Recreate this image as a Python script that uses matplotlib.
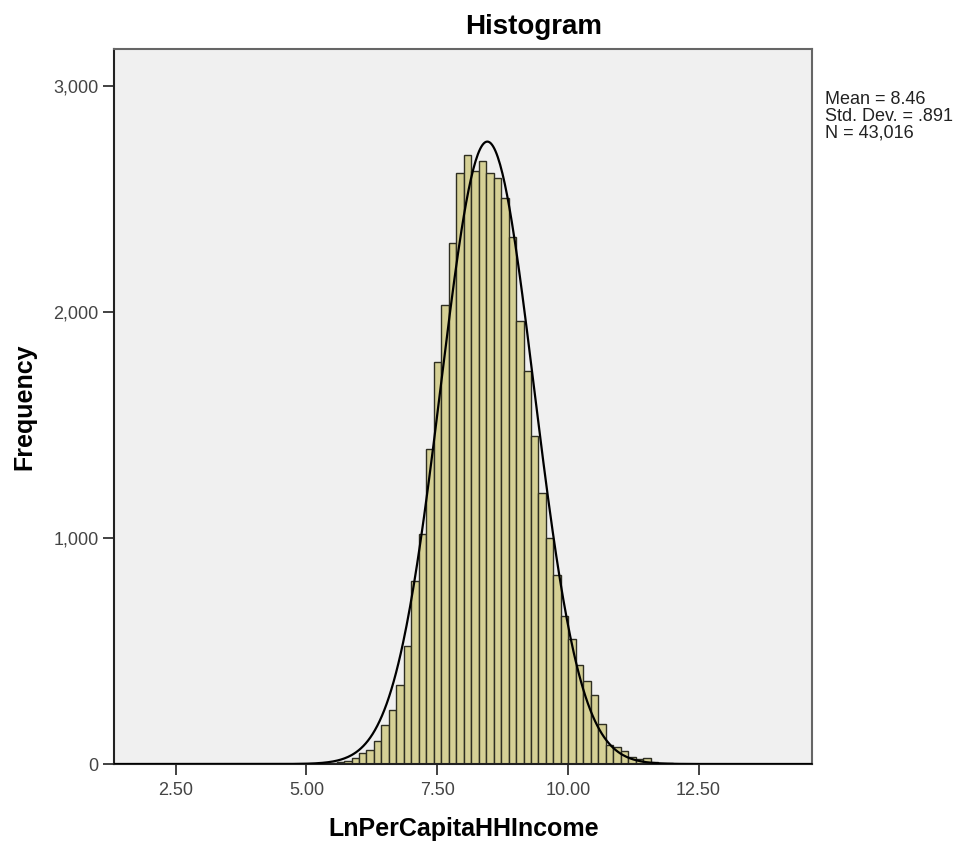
import numpy as np
import matplotlib
matplotlib.use('Agg')
import matplotlib.pyplot as plt

# histogram of LnPerCapitaHHIncome
bin_start = 5.005
bin_width = 0.143
counts = [1, 2, 2, 5, 9,
          13, 26, 48, 61, 101, 171, 237, 351, 522, 811, 1018, 1395, 1781,
          2031, 2307, 2614, 2697, 2623, 2667, 2614, 2592, 2504, 2333, 1961,
          1741, 1450, 1200, 1000, 838, 654, 553, 439, 368, 307, 175, 83, 75,
          57, 31, 22, 26, 9, 5, 3, 2, 1, 1]

mean = 8.46
sd = 0.891
n_obs = 43016

xticks = [2.5, 5.0, 7.5, 10.0, 12.5]
xtick_labels = ['2.50', '5.00', '7.50', '10.00', '12.50']
yticks = [0, 1000, 2000, 3000]
ytick_labels = ['0', '1,000', '2,000', '3,000']

plt.rcParams['font.family'] = ['Liberation Sans', 'DejaVu Sans']

fig = plt.figure(figsize=(9.63, 8.46), dpi=100)
ax = fig.add_axes([0.1184, 0.0969, 0.7248, 0.8452])
ax.set_facecolor('#f0f0f0')

edges = bin_start + bin_width * np.arange(len(counts) + 1)
ax.bar(edges[:-1], counts, width=bin_width, align='edge',
       color='#d5d095', edgecolor='#2e2e22', linewidth=1.0, zorder=2)

xs = np.linspace(1.3, 14.7, 600)
ys = n_obs * bin_width / (sd * np.sqrt(2 * np.pi)) * np.exp(-0.5 * ((xs - mean) / sd) ** 2)
ax.plot(xs, ys, color='black', linewidth=1.6, zorder=3)

ax.set_xlim(1.32, 14.67)
ax.set_ylim(0, 3164)
ax.set_xticks(xticks)
ax.set_xticklabels(xtick_labels)
ax.set_yticks(yticks)
ax.set_yticklabels(ytick_labels)
ax.tick_params(axis='both', direction='out', length=8, width=1.3,
               color='#333333', labelsize=13, labelcolor='#444444', pad=3)
ax.tick_params(axis='x', pad=5)

for side in ['right', 'top']:
    ax.spines[side].set_color('#666666')
    ax.spines[side].set_linewidth(1.5)
for side in ['left', 'bottom']:
    ax.spines[side].set_color('#222222')
    ax.spines[side].set_linewidth(1.5)

ax.set_ylabel('Frequency', fontsize=18, fontweight='bold', labelpad=12)
fig.text(0.481, 0.012, 'LnPerCapitaHHIncome', fontsize=18, fontweight='bold',
         ha='center', va='baseline')
fig.text(0.5545, 0.968, 'Histogram', fontsize=20, fontweight='bold',
         ha='center', va='center')

fig.text(0.857, 0.893, 'Mean = 8.46\nStd. Dev. = .891\nN = 43,016',
         fontsize=13, va='top', ha='left', linespacing=1.0, color='#222222')

fig.savefig('out.png', dpi=100, facecolor='white')
